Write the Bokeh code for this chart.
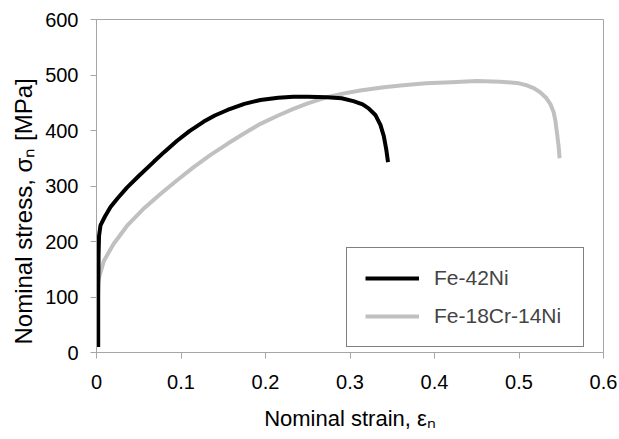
from bokeh.plotting import figure
from bokeh.models import Legend, LegendItem, FixedTicker, Range1d, Title
from bokeh.embed import file_html
from bokeh.resources import INLINE

# Fe-42Ni
strain_ni = [0.002, 0.002, 0.0025, 0.003, 0.0047, 0.01, 0.0166, 0.025, 0.036, 0.05, 0.068, 0.08,
             0.095, 0.11, 0.127, 0.14, 0.155, 0.175, 0.194, 0.215, 0.233, 0.25, 0.273, 0.29,
             0.304, 0.315, 0.322, 0.330, 0.336, 0.340, 0.343, 0.345]
stress_ni = [10, 100, 180, 210, 229, 245, 262, 278, 297, 318, 344, 361,
             381, 399, 416, 427, 437, 448, 455, 459, 461, 461, 460, 458,
             453, 447, 440, 428, 410, 390, 365, 343]

# Fe-18Cr-14Ni
strain_cr = [0.001, 0.003, 0.0087, 0.02, 0.036, 0.055, 0.076, 0.095, 0.115, 0.135, 0.155,
             0.175, 0.194, 0.215, 0.233, 0.25, 0.273, 0.29, 0.312, 0.34, 0.36, 0.39, 0.42,
             0.45, 0.478, 0.50, 0.51, 0.518, 0.525, 0.532, 0.537, 0.541, 0.543, 0.545, 0.547, 0.548]
stress_cr = [120, 135, 165, 195, 228, 258, 286, 310, 334, 356, 376,
             395, 412, 427, 439, 449, 460, 466, 472, 478, 481, 485, 487,
             489, 488, 485, 481, 476, 469, 459, 448, 433, 418, 395, 370, 350]

x_ticks = [0, 0.1, 0.2, 0.3, 0.4, 0.5, 0.6]
x_tick_labels = ["0", "0.1", "0.2", "0.3", "0.4", "0.5", "0.6"]
y_ticks = [0, 100, 200, 300, 400, 500, 600]

x_title = "Nominal strain, εₙ"
y_title = "Nominal stress, σₙ [MPa]"

FONT = "Liberation Sans"
FS_TICK = "20px"
FRAME = "#a6a6a6"

p = figure(width=619, height=439, output_backend="svg", toolbar_location=None,
           x_range=Range1d(0, 0.6), y_range=Range1d(0, 600),
           min_border_left=96, min_border_right=16, min_border_top=19, min_border_bottom=87)
p.grid.visible = False
p.outline_line_color = FRAME
p.outline_line_width = 1
p.background_fill_color = "white"
p.border_fill_color = "white"

for ax in (p.xaxis[0], p.yaxis[0]):
    ax.axis_line_color = FRAME
    ax.major_tick_line_color = FRAME
    ax.minor_tick_line_color = None
    ax.major_tick_out = 6
    ax.major_tick_in = 0
    ax.major_label_text_font = FONT
    ax.major_label_text_font_size = FS_TICK
    ax.major_label_text_color = "black"
    ax.axis_label_text_font = FONT
    ax.axis_label_text_font_style = "normal"
    ax.axis_label_text_color = "black"

p.xaxis.ticker = FixedTicker(ticks=x_ticks)
p.xaxis.major_label_overrides = {t: l for t, l in zip(x_ticks, x_tick_labels)}
p.xaxis.major_label_standoff = 16
p.xaxis.axis_label = x_title
p.xaxis.axis_label_text_font_size = "22px"
p.xaxis.axis_label_standoff = 14

p.yaxis.ticker = FixedTicker(ticks=y_ticks)
p.yaxis.major_label_standoff = 12

# y title as a side title so it can sit low along the axis, as in the source
p.add_layout(Title(text=y_title, align="left", offset=8, standoff=11,
                   text_font=FONT, text_font_size="24px", text_font_style="normal",
                   text_color="black"), "left")

r1 = p.line(strain_ni, stress_ni, line_color="black", line_width=4)
r2 = p.line(strain_cr, stress_cr, line_color="#c0c0c0", line_width=4)
p.renderers = [r2, r1]

legend = Legend(items=[LegendItem(label="Fe-42Ni", renderers=[r1]),
                       LegendItem(label="Fe-18Cr-14Ni", renderers=[r2])],
                location=(250, 5), border_line_color="black", border_line_width=1,
                background_fill_color="white", background_fill_alpha=1,
                label_text_font=FONT, label_text_font_size="21px",
                glyph_width=54, glyph_height=24, label_height=24, label_width=131,
                label_standoff=15, spacing=14, padding=18, margin=0)
p.add_layout(legend)

open("out.html", "w").write(file_html(p, INLINE))
